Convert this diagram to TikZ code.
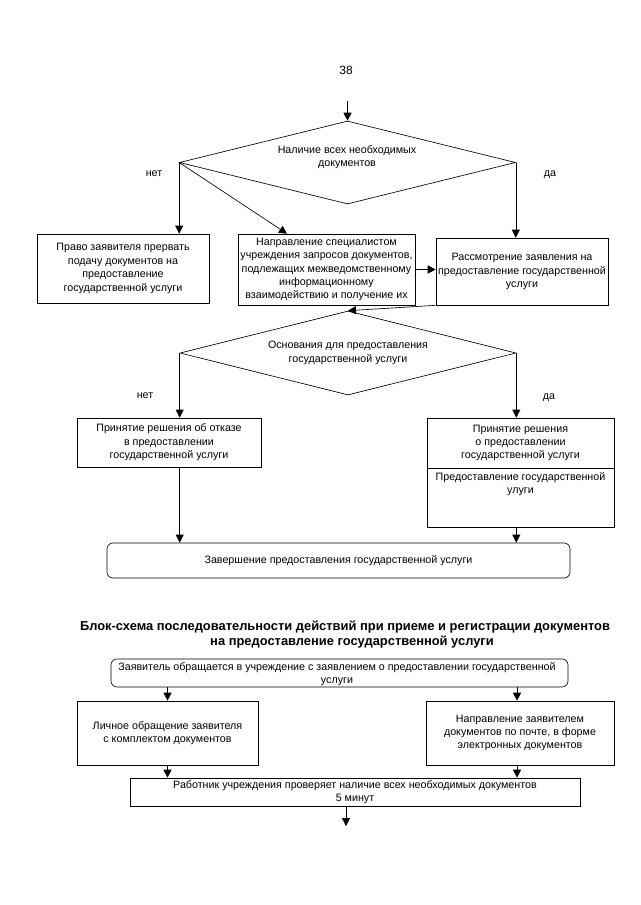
\documentclass[tikz,border=0pt]{standalone}
\usepackage{fontspec}
\setmainfont{Liberation Sans}
\usetikzlibrary{arrows.meta,shapes.geometric,calc}
\begin{document}
\begin{tikzpicture}[x=1pt,y=-1pt,
  font=\fontsize{10.7}{13.4}\selectfont,
  box/.style={draw, line width=0.65pt, inner sep=0pt, align=center},
  rbox/.style={box, rounded corners=6pt},
  dia/.style={draw, diamond, line width=0.65pt, inner sep=0pt},
  txt/.style={align=center, inner sep=0pt},
  arr/.style={line width=0.65pt, -{Triangle[width=8pt,length=8pt]}}]
\useasboundingbox[fill=white] (0,0) rectangle (640,905);

\node[txt, font=\fontsize{12}{14}\selectfont] (pg) at (346,70) {38};

% first decision
\node[dia, minimum width=336pt, minimum height=83pt] (D1) at (347.5,162.5) {};
\coordinate (topin) at (347.5,101);
\node[txt] (D1t) at (347,157) {Наличие всех необходимых\\документов};
\node[txt] (no1) at (154,174) {нет};
\node[txt] (yes1) at (550,175) {да};

\node[box, minimum width=172pt, minimum height=69pt] (B1) at (123,268.5)
  {Право заявителя прервать\\подачу документов на\\предоставление\\государственной услуги};
\node[box, minimum width=177pt, minimum height=71pt] (B2) at (326.5,269.5)
  {Направление специалистом\\учреждения запросов документов,\\подлежащих межведомственному\\информационному\\взаимодействию и получение их};
\node[box, minimum width=172pt, minimum height=67pt] (B3) at (522,271.5)
  {Рассмотрение заявления на\\предоставление государственной\\услуги};

\draw[arr] (topin) -- (D1.north);
\draw[arr] (D1.west) -- (D1.west |- B1.north);
\draw[arr] (D1.west) -- ([xshift=-39.5pt]B2.north);
\draw[arr] (D1.east) -- (D1.east |- B3.north);
\draw[arr] (B2.east) -- (B2.east -| B3.west);

% second decision
\node[dia, minimum width=336pt, minimum height=84pt] (D2) at (348,353) {};
\node[txt] (D2t) at (348,353) {Основания для предоставления\\государственной услуги};
\node[txt] (no2) at (145,396) {нет};
\node[txt] (yes2) at (549,398) {да};
\draw[arr] (B3.south west) -- (D2.north);

\node[box, minimum width=184pt, minimum height=49pt] (B4) at (169,442.5)
  {Принятие решения об отказе\\в предоставлении\\государственной услуги};
\node[box, minimum width=187pt, minimum height=50pt] (B5) at (520.5,443)
  {Принятие решения\\о предоставлении\\государственной услуги};
\node[box, minimum width=187pt, minimum height=59pt] (B6) at (520.5,497.5) {};
\node[txt] (B6t) at (520.5,484) {Предоставление государственной\\улуги};

\draw[arr] (D2.west) -- (D2.west |- B4.north);
\draw[arr] (D2.east) -- (D2.east |- B5.north);

\node[rbox, minimum width=463pt, minimum height=35pt] (R1) at (338.5,560.5)
  {Завершение предоставления государственной услуги};
\draw[arr] (D2.west |- B4.south) -- (D2.west |- R1.north);
\draw[arr] (D2.east |- B6.south) -- (D2.east |- R1.north);

% second chart
\node[txt, font=\fontsize{12.9}{15.5}\selectfont\bfseries] (title) at (345,634.5)
  {Блок-схема последовательности действий при приеме и регистрации документов\\\hspace*{14pt}на предоставление государственной услуги};

\node[rbox, minimum width=457pt, minimum height=28pt] (R2) at (339.5,673) {};
\node[txt] (R2t) at (337,674)
  {Заявитель обращается в учреждение с заявлением о предоставлении государственной\\услуги};

\node[box, minimum width=181pt, minimum height=64pt] (B7) at (167.5,733)
  {Личное обращение заявителя\\с комплектом документов};
\node[box, minimum width=188pt, minimum height=64pt] (B8) at (520,733)
  {Направление заявителем\\документов по почте, в форме\\электронных документов};

\draw[arr] (B7.north |- R2.south) -- (B7.north);
\draw[arr] ([xshift=-3pt]B8.north |- R2.south) -- ([xshift=-3pt]B8.north);

\node[box, minimum width=450pt, minimum height=28pt] (B9) at (355,792)
  {Работник учреждения проверяет наличие всех необходимых документов\\5 минут};

\draw[arr] (B7.south) -- (B7.south |- B9.north);
\draw[arr] ([xshift=-3pt]B8.south) -- ([xshift=-3pt]B8.south |- B9.north);
\coordinate (endout) at (346,826);
\draw[arr] (B9.south -| endout) -- (endout);
\end{tikzpicture}
\end{document}
